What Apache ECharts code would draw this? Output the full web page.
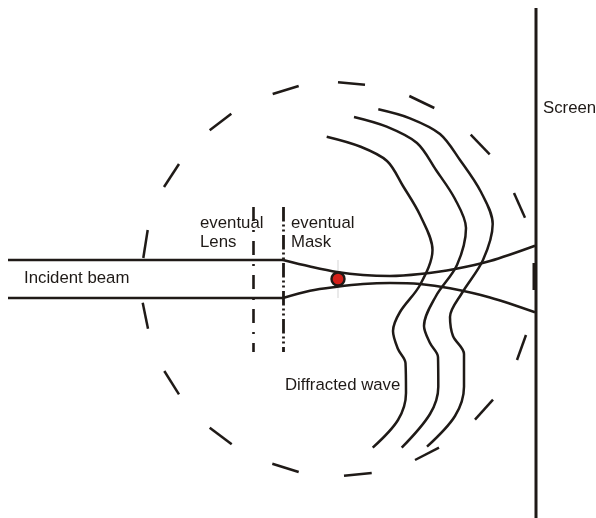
<!DOCTYPE html>
<html><head><meta charset="utf-8">
<style>html,body{margin:0;padding:0;background:#fff}#c{width:596px;height:518px}</style>
<script src="https://cdn.jsdelivr.net/npm/echarts@6/dist/echarts.min.js"></script>
</head><body><div id="c"></div>
<script>
const ink = '#1f1a17';
const screenLine = [[536,8],[536,518]];
const screenTick = [[534,263],[534,290]];
const beamTop = [[8,260],[283,260]];
const beamBottom = [[8,298],[283,298]];
const upperCurve = [[283,260],[310,266.5],[337,272],[363,275],[390,276],[420,274],[455,269],[490,261],[535,245.7]];
const lowerCurve = [[283,298],[310,290.7],[337,286.7],[363,284],[390,283],[420,284],[450,288.3],[490,297.5],[535,312.3]];
const wave1 = [[326.7,136.7],[360,146.5],[387,161],[403,186],[420,215],[432.5,250],[420,285],[400,312],[393,331],[398,349],[405.5,363],[406,393],[398,420],[372.7,447.7]];
const wave2 = [[354,117],[386.7,126.7],[417,143],[436,170],[455,199],[466,228],[457,265],[436,296],[424,326],[430,343],[438,357],[438.3,386.7],[430,414],[401.7,447.7]];
const wave3 = [[378.3,109.3],[410,118.3],[440,134],[460,160],[481,192],[492.7,224],[483,260],[462,293],[450,317],[453,336],[464,354],[464,386.7],[455,416],[427,446.7]];
const circleDashes = [
 [[338,82.3],[365,84.7]],[[409.3,96],[434.3,108]],[[470.7,134.7],[489.7,154.3]],[[514,193],[525,217.7]],
 [[526,335],[517,360]],[[493,399.7],[475,419.7]],[[439,447.7],[415,460]],[[371.7,473],[344,475.7]],
 [[298.7,86],[272.7,94]],[[231.3,113.7],[209.7,130.3]],[[179,164],[164,187]],[[147.7,230],[143.3,258]],
 [[142.7,302.7],[148,328.7]],[[164.3,371],[179,394.3]],[[209.7,427.7],[231.7,444.3]],[[272.3,463.7],[298.7,472]]
];
const lensLine = [[253.5,207],[253.5,352]];
const maskLine = [[283.5,207],[283.5,352]];
const faintLine = [[338,260],[338,298]];
const spot = [[338,279]];
const labels = [
 {t:'Incident beam',p:[24,278]},{t:'eventual',p:[200,223]},{t:'Lens',p:[200,242]},
 {t:'eventual',p:[291,223]},{t:'Mask',p:[291,242]},{t:'Diffracted wave',p:[285,385]},{t:'Screen',p:[543,108]}
];
const line = (data,w,extra={},smooth=false)=>({type:'line',data,smooth,symbol:'none',silent:true,clip:false,
  lineStyle:Object.assign({color:ink,width:w,cap:'butt'},extra)});
const S = 0.33;
const series = [
  line(faintLine,1.2,{color:'#dcdcdc'}),
  line(screenLine,3),line(screenTick,3),
  line(beamTop,2.5),line(beamBottom,2.5),
  line(upperCurve,2.5,{},S),line(lowerCurve,2.5,{},S),
  line(wave1,2.5,{},S),line(wave2,2.5,{},S),line(wave3,2.5,{},S),
  line(lensLine,2.6,{type:[14,9,2,9]}),
  line(maskLine,2.8,{type:[14.5,3,2,3,2,3.5]}),
  ...circleDashes.map(d=>line(d,2.5)),
  {type:'scatter',data:spot,symbol:'circle',symbolSize:13,silent:true,z:5,itemStyle:{color:'#d4201a',borderColor:ink,borderWidth:2.4,opacity:1}},
  {type:'scatter',symbolSize:0,silent:true,z:6,
   data:labels.map(l=>({value:l.p,label:{show:true,formatter:l.t,position:'right',distance:0,color:'#1f1a17',fontSize:16.8,fontFamily:'Liberation Sans',opacity:1}}))}
];
const chart = echarts.init(document.getElementById('c'),null,{renderer:'canvas'});
chart.setOption({animation:false,backgroundColor:'#fff',
  grid:{left:0,right:0,top:0,bottom:0},
  xAxis:{type:'value',min:0,max:596,show:false},
  yAxis:{type:'value',min:0,max:518,inverse:true,show:false},
  series});
</script></body></html>
